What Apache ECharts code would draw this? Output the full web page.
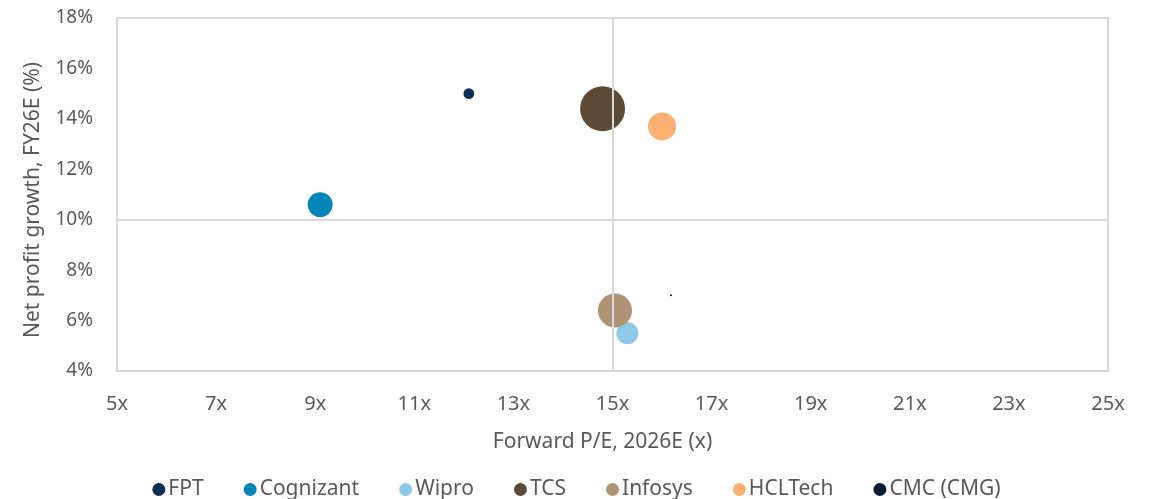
<!DOCTYPE html>
<html>
<head>
<meta charset="utf-8">
<script src="https://cdn.jsdelivr.net/npm/echarts@6/dist/echarts.min.js"></script>
<style>html,body{margin:0;padding:0;background:#fff}#c{width:1153px;height:499px}</style>
</head>
<body>
<div id="c"></div>
<script>
const companies = ['FPT', 'Cognizant', 'Wipro', 'TCS', 'Infosys', 'HCLTech', 'CMC (CMG)'];
const forwardPE = [12.1, 9.1, 15.3, 14.8, 15.05, 16.0, 16.18];
const profitGrowth = [15.0, 10.6, 5.5, 14.4, 6.4, 13.7, 7.0];
const marketCap = [8.5, 46, 36, 150, 86, 58, 0.3];
const colors = ['#0c2d54', '#0086b9', '#8ec9e9', '#5d4a36', '#b09476', '#f9b073', '#0b1d33'];
const xTicks = [5, 7, 9, 11, 13, 15, 17, 19, 21, 23, 25];
const yTicks = [4, 6, 8, 10, 12, 14, 16, 18];

const FONT = '"Noto Sans", "Open Sans", sans-serif';
const chart = echarts.init(document.getElementById('c'), null, {renderer: 'canvas'});

const series = companies.map((name, i) => ({
  name: name,
  type: 'scatter',
  data: [[forwardPE[i], profitGrowth[i], marketCap[i]]],
  symbolSize: d => Math.sqrt(d[2]) * 3.674,
  itemStyle: {color: colors[i], opacity: 1},
  z: 3
}));
series.push({
  name: 'refLines',
  type: 'scatter',
  data: [],
  silent: true,
  markLine: {
    silent: true,
    symbol: 'none',
    label: {show: false},
    lineStyle: {color: '#d9d9d9', width: 2, type: 'solid'},
    data: [{xAxis: 15}, {yAxis: 10}]
  },
  z: 1
});

chart.setOption({
  animation: false,
  color: colors,
  grid: {left: 117, right: 45, top: 18, bottom: 128, show: true, borderColor: '#d9d9d9', borderWidth: 2},
  xAxis: {
    type: 'value', min: xTicks[0], max: xTicks[xTicks.length - 1], interval: 2,
    name: 'Forward P/E, 2026E (x)', nameLocation: 'middle', nameGap: 61,
    nameTextStyle: {fontFamily: FONT, fontSize: 21, color: '#595959', padding: [0, 20, 0, 0]},
    axisLine: {show: false}, axisTick: {show: false}, splitLine: {show: false},
    axisLabel: {fontFamily: FONT, fontSize: 20, color: '#595959', margin: 23, formatter: v => v + 'x'}
  },
  yAxis: {
    type: 'value', min: yTicks[0], max: yTicks[yTicks.length - 1], interval: 2,
    name: 'Net profit growth, FY26E (%)', nameLocation: 'middle', nameGap: 73,
    nameTextStyle: {fontFamily: FONT, fontSize: 21, color: '#595959', padding: [0, 11, 0, 0]},
    axisLine: {show: false}, axisTick: {show: false}, splitLine: {show: false},
    axisLabel: {fontFamily: FONT, fontSize: 19, color: '#595959', margin: 24, formatter: v => v + '%'}
  },
  legend: {
    data: companies,
    bottom: -6, left: 'center',
    icon: 'circle', itemWidth: 13, itemHeight: 13, itemGap: 40,
    textStyle: {fontFamily: FONT, fontSize: 21, color: '#595959', padding: [0, 0, 0, -2]}
  },
  series: series
});
</script>
</body>
</html>
